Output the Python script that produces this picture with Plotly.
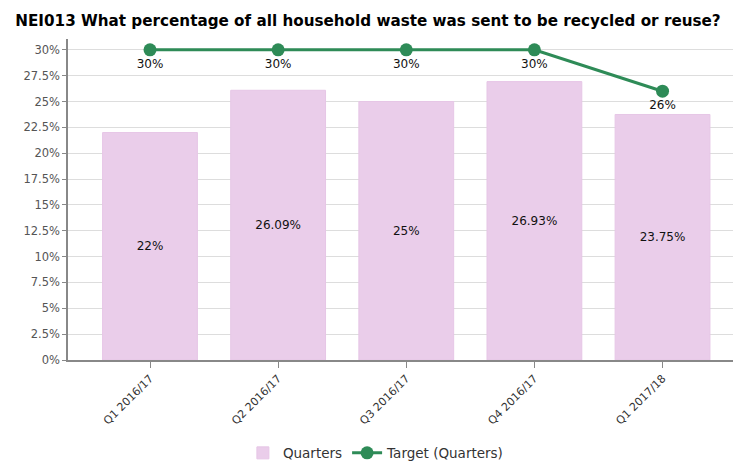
import plotly.graph_objects as go

categories = ["Q1 2016/17", "Q2 2016/17", "Q3 2016/17", "Q4 2016/17", "Q1 2017/18"]
quarters = [22, 26.09, 25, 26.93, 23.75]
quarter_labels = ["22%", "26.09%", "25%", "26.93%", "23.75%"]
target = [30, 30, 30, 30, 26]
target_labels = ["30%", "30%", "30%", "30%", "26%"]
y_ticks = [0, 2.5, 5, 7.5, 10, 12.5, 15, 17.5, 20, 22.5, 25, 27.5, 30]
y_tick_text = ["0%", "2.5%", "5%", "7.5%", "10%", "12.5%", "15%", "17.5%", "20%", "22.5%", "25%", "27.5%", "30%"]

xidx = list(range(len(categories)))

fig = go.Figure()
fig.add_trace(go.Bar(
    x=xidx, y=quarters, name="Quarters",
    width=0.74,
    marker=dict(color="#eacdea", line=dict(color="#e6c6e6", width=1)),
    text=quarter_labels, textposition="inside", insidetextanchor="middle",
    textfont=dict(family="DejaVu Sans", size=12, color="#111111"),
    textangle=0,
))
fig.add_trace(go.Scatter(
    x=xidx, y=target, name="Target (Quarters)", mode="lines+markers+text",
    line=dict(color="#2e8b57", width=3),
    marker=dict(color="#2e8b57", size=13),
    text=target_labels, textposition="bottom center",
    textfont=dict(family="DejaVu Sans", size=12, color="#111111"),
))

fig.update_layout(
    width=733, height=461,
    margin=dict(l=68, r=0, t=39, b=101, autoexpand=False),
    paper_bgcolor="white", plot_bgcolor="white",
    title=dict(text="<b>NEI013 What percentage of all household waste was sent to be recycled or reuse?</b>",
               x=0.502, xanchor="center", y=0.956, yanchor="middle",
               font=dict(family="DejaVu Sans", size=15.2, color="#000000")),
    showlegend=True,
    legend=dict(orientation="h", x=0.463, xanchor="center", y=-0.29, yanchor="middle",
                font=dict(family="DejaVu Sans", size=13.5, color="#333333"),
                itemwidth=30, tracegroupgap=0),
)
fig.update_xaxes(
    tickmode="array", tickvals=xidx, ticktext=categories, tickangle=-45,
    range=[-0.64, 4.55], automargin=False,
    showline=True, linecolor="#888888", linewidth=1.5,
    ticks="outside", ticklen=6, tickcolor="#888888",
    tickfont=dict(family="DejaVu Sans", size=11, color="#333333"),
    showgrid=False, zeroline=False,
)
fig.update_yaxes(
    tickmode="array", tickvals=y_ticks, ticktext=y_tick_text,
    range=[0, 31.05], automargin=False,
    showline=True, linecolor="#888888", linewidth=1.5,
    ticks="outside", ticklen=4, tickcolor="#888888",
    tickfont=dict(family="DejaVu Sans", size=11.5, color="#555555"),
    showgrid=True, gridcolor="#dddddd", gridwidth=1, zeroline=False,
)

fig.write_html("out.html", config={"displayModeBar": False},
               post_script="document.body.style.margin='0';")
